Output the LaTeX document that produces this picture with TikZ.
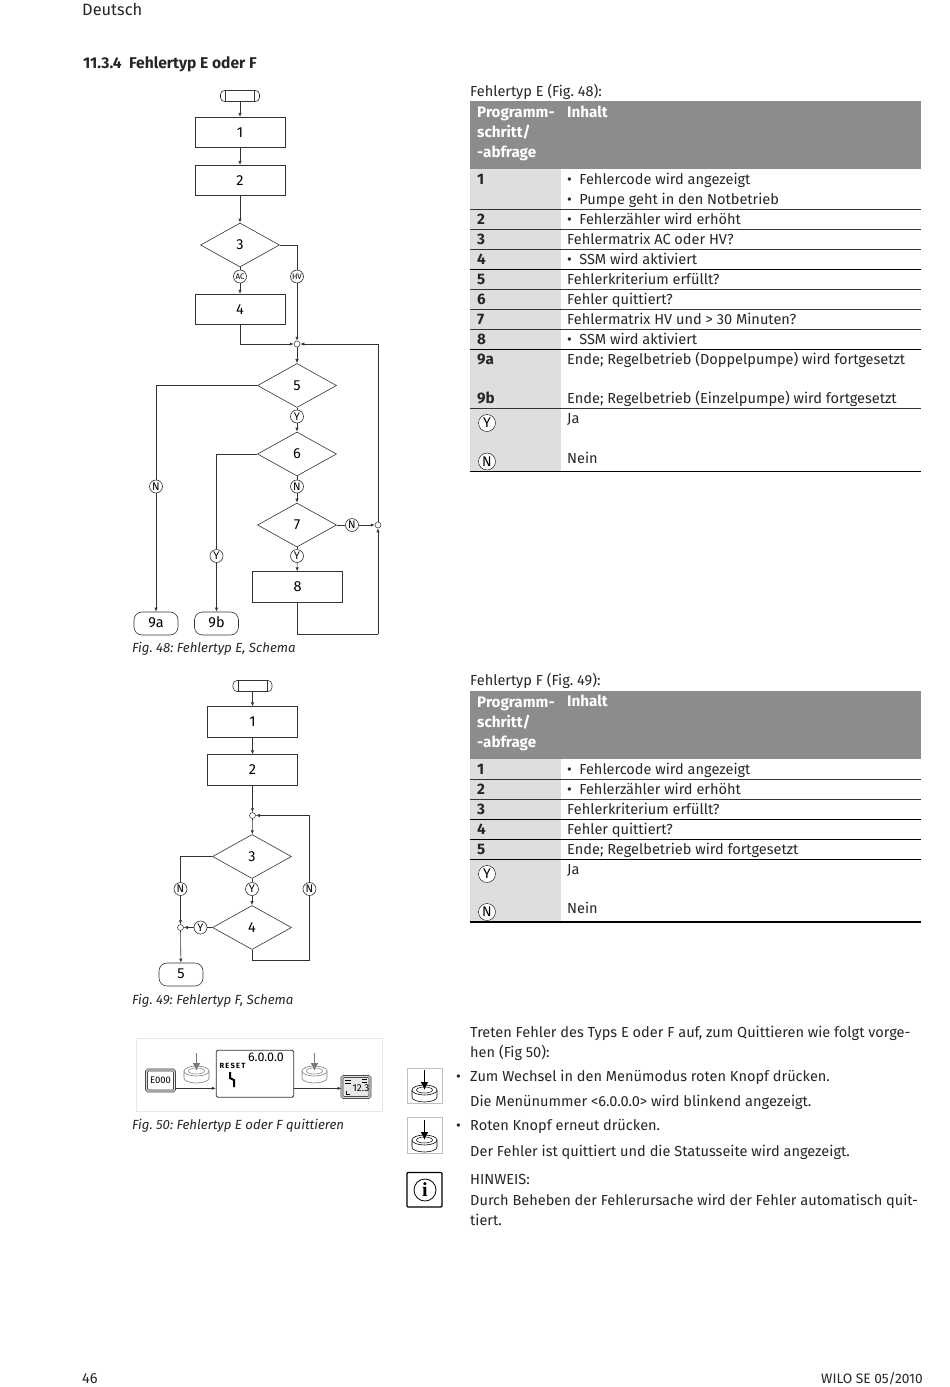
\documentclass[tikz,border=0pt]{standalone}
\usepackage{fontspec}
\setmainfont{Fira Sans}
\newfontfamily\infofont{Liberation Serif}
\usetikzlibrary{arrows.meta, positioning, shapes.geometric}
\definecolor{mHead}{HTML}{8C8C8C}
\definecolor{mCol}{HTML}{DEDEDE}
\definecolor{mLine}{HTML}{333333}
\definecolor{mFrame}{HTML}{E8E8E8}
\definecolor{mKnopf}{HTML}{7A7A7A}
\tikzset{
  flowbox/.style={draw=mLine, line width=0.6pt, minimum width=90pt, minimum height=30.5pt,
                  inner sep=0pt, font=\fontsize{14.5}{14.5}\selectfont},
  flowdia/.style={draw=mLine, line width=0.6pt, diamond, aspect=1.8, minimum width=79pt,
                  minimum height=44pt, inner sep=0pt, font=\fontsize{14.5}{14.5}\selectfont},
  flowend/.style={draw=mLine, line width=0.6pt, rounded corners=8pt, minimum width=44pt,
                  minimum height=23pt, inner sep=0pt, text height=9pt, text depth=2pt,
                  font=\fontsize{14.5}{14.5}\selectfont},
  flowstart/.style={draw=mLine, line width=0.6pt, rounded corners=4pt, minimum width=39pt,
                  minimum height=11pt, inner sep=0pt},
  marker/.style={draw=mLine, line width=0.6pt, circle, minimum size=13pt, inner sep=0pt,
                 fill=white, font=\fontsize{11}{11}\selectfont},
  smallmark/.style={marker, font=\fontsize{8}{8}\selectfont},
  joint/.style={draw=mLine, line width=0.5pt, circle, minimum size=6pt, inner sep=0pt, fill=white},
  flow/.style={draw=mLine, line width=0.6pt},
  flowarrow/.style={flow, -{Latex[length=4pt,width=3.2pt]}},
  txt/.style={anchor=base west, inner sep=0pt, font=\fontsize{14.55}{20.3}\selectfont, align=left, text=black!85},
  boldtxt/.style={txt, font=\fontsize{15.2}{20}\selectfont\bfseries},
  headtxt/.style={boldtxt, text=white},
  capt/.style={txt, font=\fontsize{13.25}{20}\selectfont\itshape},
  thinrule/.style={mLine, line width=0.8pt},
  boldrule/.style={black, line width=1.2pt},
  legendmark/.style={draw=black, circle, minimum size=17pt, inner sep=0pt, fill=white,
                     font=\fontsize{14}{14}\selectfont},
  display/.style={draw=mLine, line width=0.8pt, rounded corners=1.5pt, double=mCol, double distance=1.2pt,
                  inner sep=0pt, minimum width=28pt, minimum height=21pt},
  pics/knopf/.style={code={
    \draw[line width=0.6pt, fill=white] (-12.5,0) -- (-12.5,7)
      arc[start angle=180, end angle=360, x radius=12.5pt, y radius=5pt] -- (12.5,0);
    \draw[line width=0.6pt, fill=white] (0,0) ellipse [x radius=12.5pt, y radius=5pt];
    \draw[line width=0.5pt] (0,0) ellipse [x radius=8pt, y radius=3pt];
    \draw[line width=1.5pt, -{Latex[length=8pt,width=8pt]}] (0,#1) -- (0,0);
  }},
}
\frenchspacing
\begin{document}
\begin{tikzpicture}[x=1pt, y=-1pt]
  \useasboundingbox (0,0) rectangle (950,1387);
  % page head
  \node[txt, font=\fontsize{16.4}{20}\selectfont] (kopf) at (82,15) {Deutsch};
  \node[boldtxt, font=\fontsize{15.6}{20}\selectfont\bfseries] (titel) at (83,68) {11.3.4\ \ Fehlertyp E oder F};

  % Fig. 48
  \node[flowstart] (es) at (240,96) {};
  \draw[flow] (225,90.5) -- (225,101.5) (254.5,90.5) -- (254.5,101.5);
  \node[flowbox] (e1) at (240,132.5) {1};
  \node[flowbox] (e2) at (240,180.5) {2};
  \node[flowdia] (e3) at (240,245) {3};
  \node[smallmark] (eac) at (240,276.5) {AC};
  \node[smallmark] (ehv) at (297,276.5) {HV};
  \node[flowbox] (e4) at (240,309.5) {4};
  \node[joint] (ej1) at (297,344) {};
  \node[flowdia] (e5) at (297,385.5) {5};
  \node[marker] (ey1) at (297,416.5) {Y};
  \node[flowdia] (e6) at (297,454) {6};
  \node[marker] (en2) at (297,486.5) {N};
  \node[flowdia] (e7) at (297,525) {7};
  \node[marker] (en3) at (352,525) {N};
  \node[joint] (ej2) at (378,525) {};
  \node[marker] (ey3) at (297,556) {Y};
  \node[flowbox] (e8) at (297.5,587) {8};
  \node[marker] (en1) at (156,486.5) {N};
  \node[marker] (ey2) at (216.5,556) {Y};
  \node[flowend] (e9a) at (156,623.5) {9a};
  \node[flowend] (e9b) at (216.5,623.5) {9b};
  \coordinate (eback) at (297.5,634);
  \coordinate (ecorner) at (378,634);
  \draw[flowarrow] (es) -- (e1);
  \draw[flowarrow] (e1) -- (e2);
  \draw[flowarrow] (e2) -- (e3);
  \draw[flow] (e3) -- (eac);
  \draw[flowarrow] (eac) -- (e4);
  \draw[flow] (e3.east) -| (ehv);
  \draw[flowarrow] (ehv) -- (ej1);
  \draw[flowarrow] (e4) |- (ej1);
  \draw[flowarrow] (ej1) -- (e5);
  \draw[flow] (e5) -- (ey1);
  \draw[flowarrow] (ey1) -- (e6);
  \draw[flow] (e6) -- (en2);
  \draw[flowarrow] (en2) -- (e7);
  \draw[flow] (e7) -- (ey3);
  \draw[flowarrow] (ey3) -- (e8);
  \draw[flow] (e7) -- (en3);
  \draw[flowarrow] (en3) -- (ej2);
  \draw[flowarrow] (ej2) |- (ej1);
  \draw[flow] (e8) -- (eback) -- (ecorner);
  \draw[flowarrow] (ecorner) -- (ej2);
  \draw[flow] (e5.west) -| (en1);
  \draw[flowarrow] (en1) -- (e9a);
  \draw[flow] (e6.west) -| (ey2);
  \draw[flowarrow] (ey2) -- (e9b);
  \node[capt] (cap48) at (132,652) {Fig. 48: Fehlertyp E, Schema};

  % Fig. 49
  \node[flowstart] (fs) at (252.5,686) {};
  \draw[flow] (238,680.5) -- (238,691.5) (267,680.5) -- (267,691.5);
  \node[flowbox] (f1) at (252.5,722) {1};
  \node[flowbox] (f2) at (252.5,770) {2};
  \node[joint] (fj1) at (252.5,815.5) {};
  \node[flowdia] (f3) at (252,856.5) {3};
  \node[marker] (fn1) at (180.5,889) {N};
  \node[marker] (fy1) at (252,889) {Y};
  \node[marker] (fn2) at (309.5,889) {N};
  \node[flowdia] (f4) at (252,927.5) {4};
  \node[joint] (fj2) at (180.5,927.5) {};
  \node[marker] (fy2) at (200.5,927.5) {Y};
  \node[flowend] (f5) at (181,974.5) {5};
  \coordinate (fback) at (252,960.5);
  \coordinate (fcorner) at (309.5,960.5);
  \draw[flowarrow] (fs) -- (f1);
  \draw[flowarrow] (f1) -- (f2);
  \draw[flowarrow] (f2) -- (fj1);
  \draw[flowarrow] (fj1) -- (f3);
  \draw[flow] (f3) -- (fy1);
  \draw[flowarrow] (fy1) -- (f4);
  \draw[flow] (f3.west) -| (fn1);
  \draw[flowarrow] (fn1) -- (fj2);
  \draw[flowarrow] (fj2) -- (f5);
  \draw[flow] (f4) -- (fy2);
  \draw[flowarrow] (fy2) -- (fj2);
  \draw[flow] (f4) -- (fback) -- (fcorner) -- (fn2);
  \draw[flowarrow] (fn2) |- (fj1);
  \node[capt] (cap49) at (132,1004) {Fig. 49: Fehlertyp F, Schema};

  % Fig. 50
  \draw[mFrame, line width=0.8pt] (136,1038) rectangle (382,1111);
  \node[display, fill=white, font=\fontsize{9.5}{9.5}\selectfont] (disp1) at (160.5,1080.5) {E000};
  \node[draw=mLine, line width=0.8pt, rounded corners=1.5pt, minimum width=77.5pt, minimum height=47pt, fill=white] (disp2) at (255,1073.7) {};
  \node[display, fill=mFrame] (disp3) at (356,1087) {};
  \node[inner sep=0pt, font=\fontsize{12.5}{12.5}\selectfont] (menue) at (266,1057) {6.0.0.0};
  \node[inner sep=0pt, font=\fontsize{7.5}{7.5}\selectfont\bfseries] (reset) at (232.5,1066) {R\,E\,S\,E\,T};
  \node[inner sep=0pt, font=\fontsize{10}{10}\selectfont] (wert) at (361,1088.5) {12.3};
  \draw[line width=2pt] (230,1072) -- (230,1078) -- (234,1080) -- (234,1087);
  \draw[line width=0.7pt] (345,1080.5) -- (350.5,1080.5) (345,1083.5) -- (350.5,1083.5) (346,1091) -- (346,1094.5) -- (350,1094.5)
    (361.5,1079.5) -- (367,1079.5) (361.5,1082) -- (367,1082);
  \draw[flowarrow] (disp1.east |- 0,1088.3) -- (disp2.west |- 0,1088.3);
  \draw[flowarrow] (disp2.east |- 0,1088.3) -- (disp3.west |- 0,1088.3);
  \path (196.5,1071) pic[mKnopf] {knopf={-18}};
  \path (314.5,1071) pic[mKnopf] {knopf={-18}};
  \node[capt] (cap50) at (132,1129.5) {Fig. 50: Fehlertyp E oder F quittieren};

  % Fehlertyp E table
  \node[txt] (ttl-e) at (470,96) {Fehlertyp E (Fig. 48):};
  \fill[mHead] (470,101) rectangle (921,169);
  \fill[mCol] (470,169) rectangle (561,471);
  \node[headtxt, anchor=north west] (he1) at (477,107) {Programm-\\schritt/\\-abfrage};
  \node[headtxt] (he2) at (567,117) {Inhalt};
  \foreach \ypos in {209,229,249,289,309,329,408} \draw[thinrule] (470,\ypos) -- (921,\ypos);
  \foreach \ypos in {269.5,349.5,471.5} \draw[boldrule] (470,\ypos) -- (921,\ypos);
  \node[boldtxt] (e-n1) at (477,184) {1};
  \node[txt] (e-b1) at (567,184) {\textbullet\hspace{7.5pt}Fehlercode wird angezeigt};
  \node[txt] (e-b1b) at (567,204) {\textbullet\hspace{7.5pt}Pumpe geht in den Notbetrieb};
  \node[boldtxt] (e-n2) at (477,224) {2};
  \node[txt] (e-b2) at (567,224) {\textbullet\hspace{7.5pt}Fehlerzähler wird erhöht};
  \node[boldtxt] (e-n3) at (477,244) {3};
  \node[txt] (e-b3) at (567,244) {Fehlermatrix AC oder HV?};
  \node[boldtxt] (e-n4) at (477,264) {4};
  \node[txt] (e-b4) at (567,264) {\textbullet\hspace{7.5pt}SSM wird aktiviert};
  \node[boldtxt] (e-n5) at (477,284) {5};
  \node[txt] (e-b5) at (567,284) {Fehlerkriterium erfüllt?};
  \node[boldtxt] (e-n6) at (477,304) {6};
  \node[txt] (e-b6) at (567,304) {Fehler quittiert?};
  \node[boldtxt] (e-n7) at (477,324) {7};
  \node[txt] (e-b7) at (567,324) {Fehlermatrix HV und > 30 Minuten?};
  \node[boldtxt] (e-n8) at (477,344) {8};
  \node[txt] (e-b8) at (567,344) {\textbullet\hspace{7.5pt}SSM wird aktiviert};
  \node[boldtxt] (e-n9a) at (477,364) {9a};
  \node[txt] (e-b9a) at (567,364) {Ende; Regelbetrieb (Doppelpumpe) wird fortgesetzt};
  \node[boldtxt] (e-n9b) at (477,403) {9b};
  \node[txt] (e-b9b) at (567,403) {Ende; Regelbetrieb (Einzelpumpe) wird fortgesetzt};
  \node[legendmark] (e-y) at (487,423) {Y};
  \node[txt] (e-ja) at (567,423) {Ja};
  \node[legendmark] (e-no) at (487,461.5) {N};
  \node[txt] (e-nein) at (567,463) {Nein};

  % Fehlertyp F table
  \node[txt] (ttl-f) at (470,685) {Fehlertyp F (Fig. 49):};
  \fill[mHead] (470,690.5) rectangle (921,758.5);
  \fill[mCol] (470,758.5) rectangle (561,922);
  \node[headtxt, anchor=north west] (hf1) at (477,696.5) {Programm-\\schritt/\\-abfrage};
  \node[headtxt] (hf2) at (567,706) {Inhalt};
  \foreach \ypos in {779,799} \draw[thinrule] (470,\ypos) -- (921,\ypos);
  \foreach \ypos in {819.5,839.5,859.5,922} \draw[boldrule] (470,\ypos) -- (921,\ypos);
  \node[boldtxt] (f-n1) at (477,774) {1};
  \node[txt] (f-b1) at (567,774) {\textbullet\hspace{7.5pt}Fehlercode wird angezeigt};
  \node[boldtxt] (f-n2) at (477,794) {2};
  \node[txt] (f-b2) at (567,794) {\textbullet\hspace{7.5pt}Fehlerzähler wird erhöht};
  \node[boldtxt] (f-n3) at (477,814) {3};
  \node[txt] (f-b3) at (567,814) {Fehlerkriterium erfüllt?};
  \node[boldtxt] (f-n4) at (477,834) {4};
  \node[txt] (f-b4) at (567,834) {Fehler quittiert?};
  \node[boldtxt] (f-n5) at (477,854) {5};
  \node[txt] (f-b5) at (567,854) {Ende; Regelbetrieb wird fortgesetzt};
  \node[legendmark] (f-y) at (487,874) {Y};
  \node[txt] (f-ja) at (567,874) {Ja};
  \node[legendmark] (f-no) at (487,912) {N};
  \node[txt] (f-nein) at (567,913) {Nein};

  % text below
  \node[txt, anchor=north west] (abs1) at (470,1026) {Treten Fehler des Typs E oder F auf, zum Quittieren wie folgt vorge-\\hen (Fig 50):};
  \node[txt] (bul1) at (456,1081) {\textbullet};
  \node[txt] (abs2) at (470,1081) {Zum Wechsel in den Menümodus roten Knopf drücken.};
  \node[txt] (abs3) at (470,1106) {Die Menünummer <6.0.0.0> wird blinkend angezeigt.};
  \node[txt] (bul2) at (456,1130) {\textbullet};
  \node[txt] (abs4) at (470,1130) {Roten Knopf erneut drücken.};
  \node[txt] (abs5) at (470,1156) {Der Fehler ist quittiert und die Statusseite wird angezeigt.};
  \node[txt, anchor=north west] (abs6) at (470,1174.5) {HINWEIS:\\Durch Beheben der Fehlerursache wird der Fehler automatisch quit-\\tiert.};

  % icons
  \draw[black!25, line width=1pt] (407,1068.5) rectangle (442.5,1103.5);
  \path (424.5,1090) pic {knopf={-20}};
  \draw[black!25, line width=1pt] (407,1117.5) rectangle (442.5,1153);
  \path (424.5,1140) pic {knopf={-20}};
  \draw[black, line width=1.1pt, rounded corners=1pt] (407,1172.5) rectangle (442,1207);
  \node[draw=black, line width=0.8pt, circle, minimum size=22pt, inner sep=0pt, font=\fontsize{20}{20}\selectfont\infofont\bfseries] (info) at (425,1190) {i};

  % page foot
  \node[txt] (seite) at (82,1383) {46};
  \node[txt, anchor=base east, font=\fontsize{13.7}{13.7}\selectfont] (wilo) at (923,1383) {WILO SE 05/2010};
\end{tikzpicture}
\end{document}
